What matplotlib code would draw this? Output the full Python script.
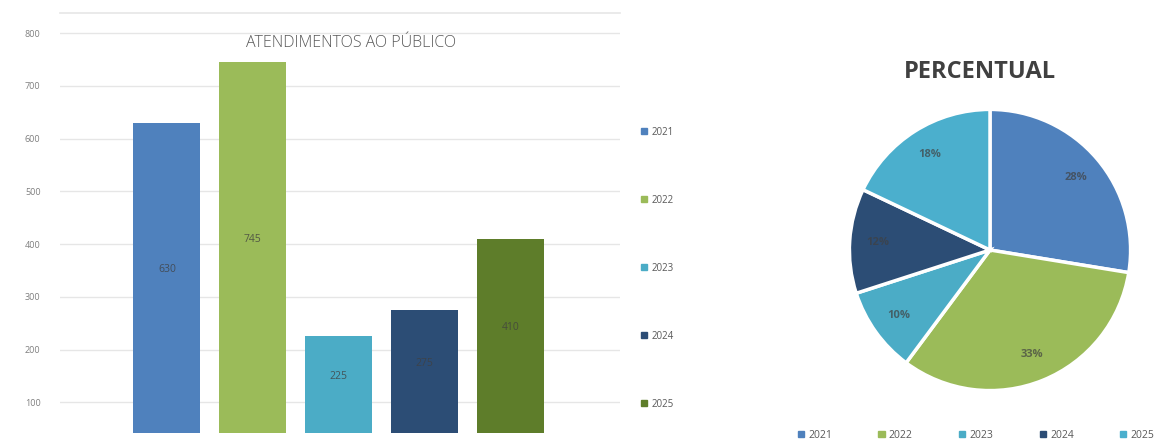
import matplotlib.pyplot as plt
from matplotlib.patches import Patch

plt.rcParams['font.family'] = ['Open Sans', 'DejaVu Sans']

# dados
anos = ['2021', '2022', '2023', '2024', '2025']
atendimentos = [630, 745, 225, 275, 410]
cores_barras = ['#4F81BD', '#9BBB59', '#4BACC6', '#2C4D75', '#5E7D2A']
cores_pizza = ['#4F81BD', '#9BBB59', '#4BACC6', '#2C4D75', '#4BAFCD']
ticks_y = [100, 200, 300, 400, 500, 600, 700, 800]

W, H = 1173, 443
fig = plt.figure(figsize=(W / 100, H / 100), dpi=100)


def caixa(x0, y0, x1, y1):
    # pixels (origem no topo) -> fração da figura
    return [x0 / W, 1 - y1 / H, (x1 - x0) / W, (y1 - y0) / H]


# --- gráfico de barras ---
ax = fig.add_axes(caixa(60, 13, 620, 433))
x = range(len(anos))
ax.bar(x, atendimentos, width=0.78, color=cores_barras, zorder=2)
y_min, y_max = 42, 838
ax.set_ylim(y_min, y_max)
ax.set_xlim(-1.244, 5.27)
ax.set_yticks(ticks_y)
ax.set_yticklabels([str(t) for t in ticks_y], fontsize=6.5, color='#7f7f7f')
ax.tick_params(axis='y', length=0, pad=14)
ax.set_xticks([])
ax.grid(axis='y', color='#e6e6e6', linewidth=1, zorder=0)
for s in ax.spines.values():
    s.set_visible(False)
ax.axhline(y_max, color='#e6e6e6', linewidth=1.2, clip_on=False)

for xi, v in zip(x, atendimentos):
    ax.text(xi, (y_min + v) / 2 + 15, str(v), ha='center', va='center',
            fontsize=7.5, color='#404040', alpha=0.8)

fig.text(351 / W, 1 - 43 / H, 'ATENDIMENTOS AO PÚBLICO', ha='center', va='center',
         fontsize=11.5, color='#595959', fontweight='light')

ax.legend([Patch(color=c) for c in cores_barras], anos, loc='upper left',
          bbox_to_anchor=((632 - 60) / 560, (433 - 118) / 420), frameon=False,
          fontsize=7, labelspacing=5.86, handlelength=0.6, handleheight=0.6,
          handletextpad=0.5, labelcolor='#595959')

# --- gráfico de pizza ---
axp = fig.add_axes(caixa(848, 108, 1132, 392))
axp.pie(atendimentos, colors=cores_pizza, startangle=90, counterclock=False,
        autopct='%1.0f%%', pctdistance=0.8,
        wedgeprops=dict(edgecolor='white', linewidth=2.5),
        textprops=dict(fontsize=8, color='#404040', fontweight='bold', alpha=0.7))
axp.set_xlim(-1.01, 1.01)
axp.set_ylim(-1.01, 1.01)
axp.set_aspect('equal')

fig.text(980 / W, 1 - 72 / H, 'PERCENTUAL', ha='center', va='center',
         fontsize=17, fontweight='bold', color='#404040')

fig.legend([Patch(color=c) for c in cores_pizza], anos, loc='center',
           bbox_to_anchor=(976 / W, 1 - 435 / H), ncol=5, frameon=False,
           fontsize=7.5, handlelength=0.6, handleheight=0.6, handletextpad=0.4,
           columnspacing=4.45, labelcolor='#595959')

fig.savefig('out.png', dpi=100)
